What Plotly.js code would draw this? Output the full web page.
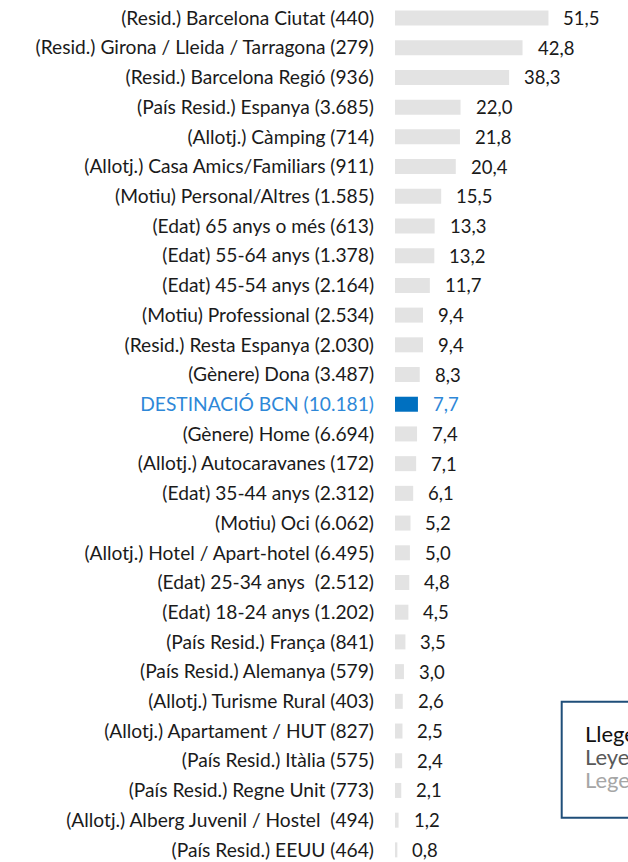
<!DOCTYPE html>
<html>
<head>
<meta charset="utf-8">
<script src="https://cdn.plot.ly/plotly-3.0.1.min.js"></script>
<style>
  html, body { margin: 0; padding: 0; background: #ffffff; }
  #chart { width: 628px; height: 862px; }
</style>
</head>
<body>
<div id="chart"></div>
<script>
// ---- data ----
const categories = [
  "(Resid.) Barcelona Ciutat (440)",
  "(Resid.) Girona / Lleida / Tarragona (279)",
  "(Resid.) Barcelona Regió (936)",
  "(País Resid.) Espanya (3.685)",
  "(Allotj.) Càmping (714)",
  "(Allotj.) Casa Amics/Familiars (911)",
  "(Motiu) Personal/Altres (1.585)",
  "(Edat) 65 anys o més (613)",
  "(Edat) 55-64 anys (1.378)",
  "(Edat) 45-54 anys (2.164)",
  "(Motiu) Professional (2.534)",
  "(Resid.) Resta Espanya (2.030)",
  "(Gènere) Dona (3.487)",
  "DESTINACIÓ BCN (10.181)",
  "(Gènere) Home (6.694)",
  "(Allotj.) Autocaravanes (172)",
  "(Edat) 35-44 anys (2.312)",
  "(Motiu) Oci (6.062)",
  "(Allotj.) Hotel / Apart-hotel (6.495)",
  "(Edat) 25-34 anys  (2.512)",
  "(Edat) 18-24 anys (1.202)",
  "(País Resid.) França (841)",
  "(País Resid.) Alemanya (579)",
  "(Allotj.) Turisme Rural (403)",
  "(Allotj.) Apartament / HUT (827)",
  "(País Resid.) Itàlia (575)",
  "(País Resid.) Regne Unit (773)",
  "(Allotj.) Alberg Juvenil / Hostel  (494)",
  "(País Resid.) EEUU (464)"
];
const values = [
  51.5, 42.8, 38.3, 22.0, 21.8, 20.4, 15.5, 13.3, 13.2, 11.7,
  9.4, 9.4, 8.3, 7.7, 7.4, 7.1, 6.1, 5.2, 5.0, 4.8,
  4.5, 3.5, 3.0, 2.6, 2.5, 2.4, 2.1, 1.2, 0.8
];
const highlightCategory = "DESTINACIÓ BCN (10.181)";
const legendLines = ["Llegenda", "Leyenda", "Legend"];

// ---- styles ----
const FONT = "Lato, 'Open Sans', sans-serif";
const GREY_BAR = "#e3e3e3";
const HL_BAR = "#0070c0";
const HL_TEXT = "#2e88d8";
const TEXT = "#1a1a1a";

const idx = categories.map((_, i) => i);
const fmt = v => v.toFixed(1).replace(".", ",");
const show = s => s.replace(/  /g, " \u00a0");

const barColors = categories.map(c => c === highlightCategory ? HL_BAR : GREY_BAR);
const tickText = categories.map(c => c === highlightCategory
  ? `<span style="color:${HL_TEXT}">${show(c)}</span>` : show(c));

const trace = {
  type: "bar",
  orientation: "h",
  y: idx,
  x: values,
  width: 0.505,
  marker: { color: barColors, line: { width: 0 } },
  hoverinfo: "skip"
};

const valueAnnotations = values.map((v, i) => ({
  x: v, y: i, xref: "x", yref: "y",
  text: fmt(v),
  showarrow: false,
  xanchor: "left", yanchor: "middle",
  xshift: 13,
  font: { family: FONT, size: 18.5, color: categories[i] === highlightCategory ? HL_TEXT : TEXT }
}));

// legend box text: one block, one colour per line
const legendColors = ["#111111", "#595959", "#a6a6a6"];
const legendText = legendLines
  .map((t, i) => `<span style="color:${legendColors[i]};font-size:22px">${t}</span>`)
  .join("<br>");
const legendAnnotation = {
  xref: "paper", yref: "paper",
  x: (583 - 395) / 233, y: 1 - 756 / 862,
  xanchor: "left", yanchor: "middle", align: "left",
  text: legendText, showarrow: false,
  font: { family: FONT, size: 17.7, color: "#111111" }
};

const layout = {
  width: 628, height: 862,
  margin: { l: 395, r: 0, t: 0, b: 0, pad: 0 },
  paper_bgcolor: "#ffffff",
  plot_bgcolor: "#ffffff",
  showlegend: false,
  xaxis: {
    range: [0, 78.2], visible: false, showgrid: false, zeroline: false, fixedrange: true
  },
  yaxis: {
    range: [28.408, -0.606],
    tickvals: idx, ticktext: tickText,
    showgrid: false, zeroline: false, showline: false,
    ticks: "", ticklabelstandoff: 20,
    tickfont: { family: FONT, size: 19.2, color: TEXT },
    fixedrange: true
  },
  shapes: [{
    type: "rect", xref: "paper", yref: "paper",
    x0: (561.7 - 395) / 233, x1: 1.5,
    y0: 1 - 817.7 / 862, y1: 1 - 701.7 / 862,
    line: { color: "#1f4e79", width: 2 },
    fillcolor: "rgba(0,0,0,0)"
  }],
  annotations: valueAnnotations.concat([legendAnnotation])
};

Plotly.newPlot("chart", [trace], layout, { displayModeBar: false, staticPlot: true });
</script>
</body>
</html>
